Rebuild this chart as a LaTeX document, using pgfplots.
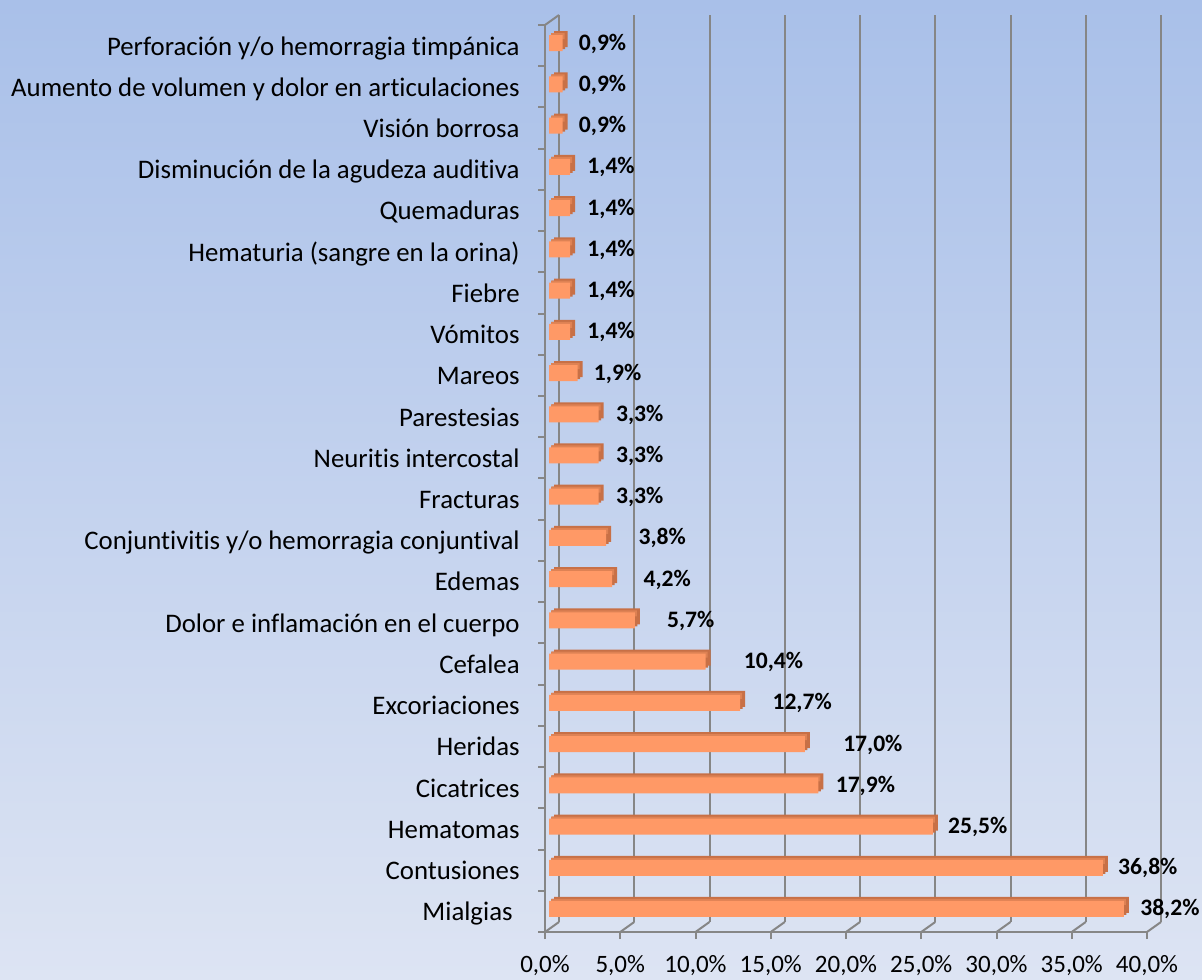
\documentclass[border=0pt]{standalone}
\usepackage{fontspec}
\setmainfont{Carlito}[Ligatures=NoCommon]
\usepackage{pgfplots}
\usepackage{pgfplotstable}
\pgfplotsset{compat=1.18}
\definecolor{bgtop}{RGB}{169,192,233}
\definecolor{bgbot}{RGB}{221,228,243}
\definecolor{barfront}{RGB}{255,153,102}
\definecolor{bardark}{RGB}{200,112,70}
\definecolor{bartop}{RGB}{222,130,84}
\definecolor{gridgray}{RGB}{134,134,134}

\pgfplotstableread{
y x off
0 38.2 16
1 36.8 15
2 25.5 15
3 17.9 17
4 17.0 38
5 12.7 32
6 10.4 38
7 5.7 32
8 4.2 31
9 3.8 32
10 3.3 17
11 3.3 17
12 3.3 17
13 1.9 16
14 1.4 17
15 1.4 17
16 1.4 17
17 1.4 17
18 1.4 17
19 0.9 16
20 0.9 16
21 0.9 16
}\data

\begin{document}
\begin{tikzpicture}
\useasboundingbox (0,0) rectangle (601pt,489.5pt);
\shade[top color=bgtop,bottom color=bgbot] (0,0) rectangle (601pt,489.5pt);
\begin{axis}[
  at={(272.5pt,23.5pt)}, anchor=south west,
  scale only axis, width=301pt, height=453.5pt,
  xmin=0, xmax=40, ymin=-0.5, ymax=21.5,
  axis lines*=left,
  axis line style={-, gridgray, line width=1pt},
  xtick={0,5,...,40},
  /pgf/number format/fixed,
  /pgf/number format/fixed zerofill,
  /pgf/number format/precision=1,
  /pgf/number format/use comma,
  /pgf/number format/assume math mode=true,
  xticklabel={\pgfmathprintnumber{\tick}\%},
  xticklabel style={font=\fontsize{12.5}{15}\selectfont, anchor=base, yshift=-16.5pt},
  tick align=outside, major tick length=3.5pt,
  tick style={gridgray, line width=1pt},
  ytick={-0.5,0.5,...,21.5}, yticklabels={},
  extra y ticks={0,...,21},
  extra y tick labels={Mialgias\hspace*{3.5pt}, Contusiones, Hematomas, Cicatrices, Heridas, Excoriaciones, Cefalea, Dolor e inflamación en el cuerpo, Edemas, Conjuntivitis y/o hemorragia conjuntival, Fracturas, Neuritis intercostal, Parestesias, Mareos, Vómitos, Fiebre, Hematuria (sangre en la orina), Quemaduras, Disminución de la agudeza auditiva, Visión borrosa, Aumento de volumen y dolor en articulaciones, Perforación y/o hemorragia timpánica},
  extra y tick style={major tick length=0pt, tick style={draw=none}},
  yticklabel style={font=\fontsize{13.4}{15}\selectfont, anchor=base east, inner sep=0pt, xshift=-12.5pt, yshift=-4.7pt},
  xmajorgrids, major grid style={gridgray, line width=1pt, xshift=7pt, yshift=5pt},
  clip=false,
]
\addplot[xbar, bar shift=0pt, bar width=8pt, fill=bardark, draw=none, xshift=4.5pt, yshift=3.2pt] table[x=x,y=y]{\data};
\addplot[xbar, bar shift=0pt, bar width=8pt, fill=bardark, draw=none, xshift=3.25pt, yshift=2.2pt] table[x=x,y=y]{\data};
\addplot[xbar, bar shift=0pt, bar width=3pt, fill=bartop, draw=none, xshift=3pt, yshift=4.7pt] table[x=x,y=y]{\data};
\addplot[xbar, bar shift=0pt, bar width=8pt, fill=barfront, draw=none, xshift=2pt, yshift=1.2pt,
  nodes near coords={\pgfmathprintnumber{\pgfplotspointmeta}\%}, point meta=x,
  visualization depends on={\thisrow{off} \as \loff},
  every node near coord/.append style={font=\bfseries\fontsize{11.8}{14}\selectfont, anchor=base west, inner sep=0pt, xshift=0.5*\loff pt, yshift=-3.5pt}] table[x=x,y=y]{\data};
\pgfplotsinvokeforeach{0,5,...,40}{\draw[gridgray,line width=1pt] (axis cs:#1,-0.5) -- ++(7pt,5pt);}
\draw[gridgray,line width=1pt] (axis cs:0,21.5) -- ++(7pt,5pt);
\end{axis}
\end{tikzpicture}
\end{document}
